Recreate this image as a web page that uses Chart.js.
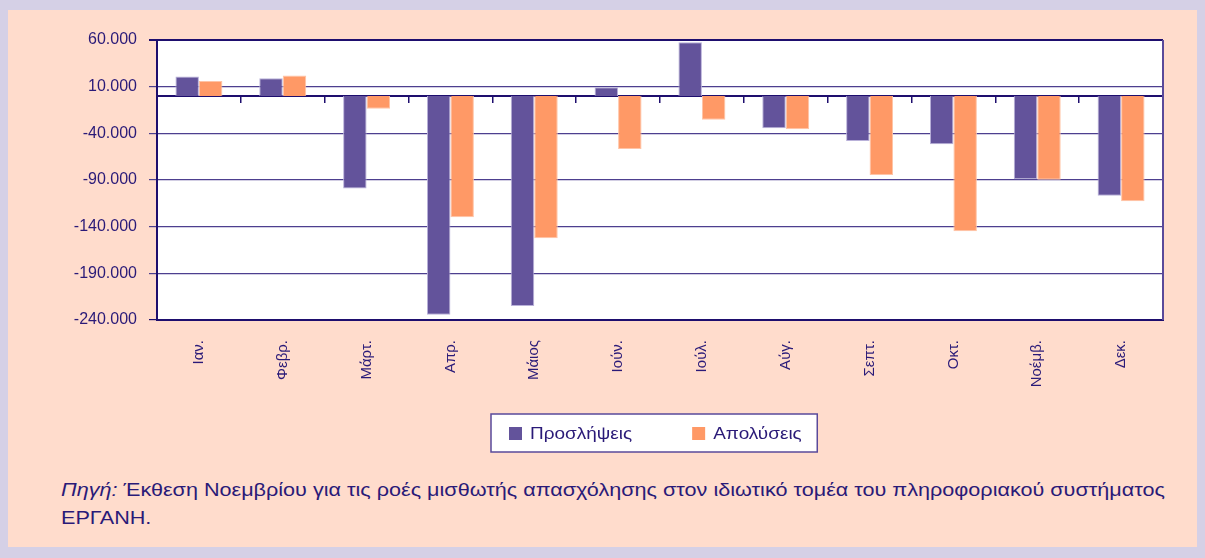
<!DOCTYPE html>
<html lang="el">
<head>
<meta charset="utf-8">
<title>Προσλήψεις και απολύσεις</title>
<script src="https://cdn.jsdelivr.net/npm/chart.js@4.4.1/dist/chart.umd.min.js"></script>
<style>
  html, body { margin: 0; padding: 0; }
  body { width: 1205px; height: 558px; background: #d5d0e6; position: relative; overflow: hidden;
         font-family: "Liberation Sans", Arial, sans-serif; }
  #panel { position: absolute; left: 8px; top: 10px; width: 1189px; height: 537px; background: #ffdccc; }
  #chartBox { position: absolute; left: 0; top: 0; width: 1189px; height: 455px; }
  #source { position: absolute; left: 53px; top: 466px; font-size: 18px; line-height: 28px;
            color: #2a1a78; white-space: nowrap; transform: scaleX(1.2); transform-origin: 0 0; }
</style>
</head>
<body>
<div id="panel">
  <div id="chartBox"><canvas id="chart" width="1189" height="455"></canvas></div>
  <div id="source"><i>Πηγή:</i> Έκθεση Νοεμβρίου για τις ροές μισθωτής απασχόλησης στον ιδιωτικό τομέα του πληροφοριακού συστήματος<br>ΕΡΓΑΝΗ.</div>
</div>
<script>
// δεδομένα
const months = ['Ιαν.', 'Φεβρ.', 'Μάρτ.', 'Απρ.', 'Μάιος', 'Ιούν.', 'Ιούλ.', 'Αύγ.', 'Σεπτ.', 'Οκτ.', 'Νοέμβ.', 'Δεκ.'];
const hires = [21000, 19000, -99000, -234500, -225000, 9300, 57500, -34600, -48200, -51800, -89300, -106800];
const layoffs = [16000, 22000, -13600, -130000, -152500, -56800, -25400, -35700, -84600, -145000, -89600, -112900];
const yMin = -240000;
const yMax = 60000;
const yStep = 50000;

const navy = '#1e0e6e';
const textColor = '#2a1a78';
const gridColor = '#4d3f8f';

Chart.defaults.font.family = '"Liberation Sans", Arial, sans-serif';
Chart.defaults.color = textColor;

// 60.000 / -240.000
function fmt(v) {
    const s = Math.abs(v).toString().replace(/\B(?=(\d{3})+(?!\d))/g, '.');
    return (v < 0 ? '-' : '') + s;
}

// λευκό φόντο και δεξί περίγραμμα περιοχής
const plotFrame = {
    id: 'plotFrame',
    beforeDraw(chart) {
        const {ctx, chartArea: a} = chart;
        ctx.save();
        ctx.fillStyle = '#ffffff';
        ctx.fillRect(a.left, a.top, a.right - a.left, a.bottom - a.top);
        ctx.restore();
    },
    afterDraw(chart) {
        const {ctx, chartArea: a} = chart;
        ctx.save();
        ctx.strokeStyle = '#5a4a9a';
        ctx.lineWidth = 2;
        ctx.beginPath();
        ctx.moveTo(a.right, a.top);
        ctx.lineTo(a.right, a.bottom);
        ctx.stroke();
        ctx.restore();
    }
};

// υπόμνημα με πλαίσιο
const frameLegend = {
    id: 'frameLegend',
    afterDraw(chart) {
        const {ctx, chartArea} = chart;
        const sets = chart.data.datasets;
        const stretch = 1.15;
        ctx.save();
        ctx.font = '16.5px "Liberation Sans", Arial, sans-serif';
        const sq = 13, textGap = 8, itemGap = 60;
        const textW = sets.map(ds => ctx.measureText(ds.label).width * stretch);
        const widths = textW.map(w => sq + textGap + w);
        const total = widths.reduce((a, b) => a + b, 0) + itemGap * (sets.length - 1);
        const cx = (chartArea.left + chartArea.right) / 2 - 5;
        const cy = chartArea.bottom + 113.7;
        const x0 = Math.round(cx - total / 2);
        const fx = x0 - 18, fy = Math.round(cy - 19.5), fw = total + 33.5, fh = 38;
        ctx.fillStyle = '#ffffff';
        ctx.fillRect(fx, fy, fw, fh);
        ctx.strokeStyle = '#5a4a9a';
        ctx.lineWidth = 1.5;
        ctx.strokeRect(fx, fy, fw, fh);
        let x = x0;
        sets.forEach((ds, i) => {
            ctx.fillStyle = ds.backgroundColor;
            ctx.fillRect(x, Math.round(cy - 6.5), sq, sq);
            ctx.save();
            ctx.translate(x + sq + textGap, cy + 1);
            ctx.scale(stretch, 1);
            ctx.fillStyle = textColor;
            ctx.textAlign = 'left';
            ctx.textBaseline = 'middle';
            ctx.fillText(ds.label, 0, 0);
            ctx.restore();
            x += widths[i] + itemGap;
        });
        ctx.restore();
    }
};

new Chart(document.getElementById('chart'), {
    type: 'bar',
    data: {
        labels: months,
        datasets: [{
            label: 'Προσλήψεις',
            data: hires,
            backgroundColor: '#63539b',
            borderColor: '#b9b1d9',
            borderWidth: 1,
            categoryPercentage: 0.56,
            barPercentage: 1
        }, {
            label: 'Απολύσεις',
            data: layoffs,
            backgroundColor: '#ff9966',
            borderColor: '#ffc4a6',
            borderWidth: 1,
            categoryPercentage: 0.56,
            barPercentage: 1
        }]
    },
    options: {
        responsive: false,
        animation: false,
        layout: { padding: { top: 30, right: 34, left: 0, bottom: 0 } },
        plugins: {
            legend: { display: false },
            tooltip: { enabled: false }
        },
        scales: {
            x: {
                position: 'bottom',
                grid: { display: false, drawTicks: false },
                border: { display: true, color: navy, width: 2 },
                ticks: { minRotation: 90, maxRotation: 90, autoSkip: false, padding: 20,
                         color: textColor, font: { size: 15 } },
                afterFit: s => { s.height = 145; }
            },
            x2: {
                type: 'category',
                axis: 'x',
                labels: months,
                position: { y: 0 },
                offset: true,
                z: 1,
                grid: { drawOnChartArea: false, drawTicks: true, tickLength: 6, offset: true,
                        color: navy, lineWidth: 1.5 },
                border: { display: true, color: navy, width: 2 },
                ticks: { display: false }
            },
            y: {
                min: yMin,
                max: yMax,
                ticks: { stepSize: yStep, callback: v => fmt(v), color: textColor,
                         font: { size: 16 }, padding: 12 },
                grid: {
                    color: c => (c.tick && (c.tick.value === yMax || c.tick.value === yMin)) ? navy : gridColor,
                    lineWidth: c => (c.tick && c.tick.value === yMax) ? 2 : 1.2,
                    drawTicks: true,
                    tickLength: 8
                },
                border: { display: true, color: navy, width: 2 },
                afterFit: s => { s.width = 149; }
            }
        }
    },
    plugins: [plotFrame, frameLegend]
});
</script>
</body>
</html>
